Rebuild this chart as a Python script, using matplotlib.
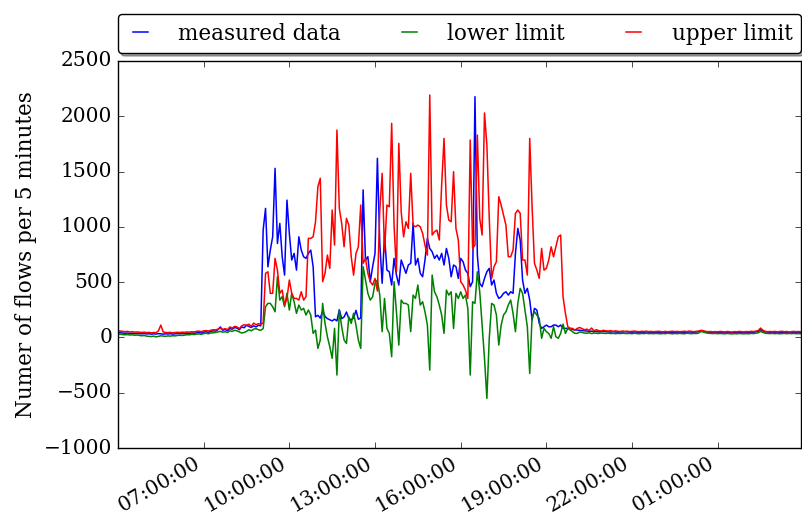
import datetime as dt
import matplotlib
matplotlib.use("Agg")
import matplotlib.pyplot as plt
import matplotlib.dates as mdates

# ---------------- data (5-minute samples starting 04:00) ----------------
start_time = dt.datetime(2015, 1, 1, 4, 0, 0)
step_minutes = 5

measured_early = [45, 42, 40, 38, 40, 36, 38, 35, 37, 34,
                  33, 35, 32, 34, 30, 33, 31, 35, 32, 30,
                  33, 31, 34, 30, 32, 35, 33, 36, 34, 38,
                  36, 40, 38, 42, 45, 40, 48, 52, 46, 55,
                  60, 58, 70, 95, 65, 72, 60, 80, 75, 90,
                  85, 70, 95, 88, 110, 100, 90, 105, 95, 110, 105]
measured_day = [971, 1167, 639, 790, 910, 1529, 850, 1031, 730, 564, 1242, 941, 700, 760, 609,
                910, 790, 730, 715, 760, 790, 640,
                187, 200, 175, 240, 190, 170, 160, 150, 165, 150, 250, 170, 185, 230, 170, 160,
                175, 245, 165, 175, 1334, 700, 730, 504, 640, 760, 1620, 850,
                490, 926, 609, 594, 474, 715, 564, 474, 700, 640, 580, 655, 670, 1031, 655,
                715, 580, 549, 700, 896, 805, 775, 715, 745, 700, 760, 655, 805, 715,
                549, 655, 640, 534, 715, 685, 609, 580, 459, 504, 2177, 745, 489, 459, 534,
                594, 625, 474, 519, 399, 353, 368, 399, 413, 383,
                413, 399, 760, 986, 881, 519, 399, 444, 338, 157, 263, 248, 127, 82, 97,
                112, 97, 97, 112, 112, 97, 112, 82, 82, 82, 82, 72, 67, 67]
measured_late = [65, 62, 60, 58, 55, 57, 52, 55, 50, 53,
                 55, 52, 50, 48, 52, 50, 47, 50, 48, 52,
                 50, 48, 46, 50, 47, 45, 48, 46, 50, 48,
                 45, 47, 44, 46, 48, 45, 43, 46, 44, 47,
                 45, 48, 46, 44, 47, 45, 50, 48, 46, 49,
                 52, 60, 55, 50, 47, 45, 48, 46, 44, 47,
                 45, 43, 46, 44, 42, 45, 43, 47, 45, 44,
                 46, 44, 48, 46, 50, 55, 70, 58, 50, 47,
                 45, 48, 46, 44, 47, 45, 43, 46, 44, 45,
                 47, 45, 46, 44]

lower_early = [30, 28, 25, 24, 26, 22, 24, 20, 22, 18,
               15, 18, 12, 10, 8, 12, 5, 10, 15, 12,
               10, 14, 12, 16, 14, 18, 20, 18, 22, 25,
               24, 28, 26, 30, 32, 28, 35, 38, 34, 40,
               42, 45, 50, 55, 48, 52, 45, 60, 55, 65,
               60, 50, 40, 45, 55, 70, 60, 75, 80, 70, 65]
lower_day = [80, 278, 308, 308, 278, 232, 549, 338, 368, 278, 399, 248, 399, 323, 218,
             293, 248, 263, 203, 248, 203, 37,
             67, -99, -23, 308, 127, 6, -84, -189, 82, -340, 248, 97, -23, -54, 187, 127,
             218, 112, -23, -99, 640, 519, 399, 338, 368, 489, 519, 383,
             52, 353, 82, 37, -174, 504, 232, -69, 338, 308, 308, 293, 52, 383, 353,
             474, 293, 323, 232, 112, -295, 564, 413, 368, 293, 203, 37, 428, 383,
             413, 82, 399, 353, 413, 353, 383, 263, -340, 323, 308, 594, 413, 112, -189,
             -551, -8, 308, 293, 203, -69, 112, 203, 232, 293,
             338, 218, 52, 308, 444, 399, 248, 97, -325, 187, 232, 203, 173, -8, 82,
             52, 37, -8, 97, 7, -8, 37, 120, 37, 82, 67, 52, 37, 37]
lower_late = [50, 45, 40, 38, 42, 35, 40, 38, 36, 40,
              38, 36, 40, 35, 38, 34, 37, 35, 38, 36,
              35, 37, 34, 38, 36, 33, 36, 35, 38, 34,
              36, 34, 37, 35, 33, 36, 34, 38, 35, 33,
              36, 34, 37, 35, 33, 38, 36, 34, 37, 35,
              40, 55, 48, 42, 38, 36, 35, 37, 34, 36,
              35, 33, 36, 34, 32, 35, 33, 36, 34, 33,
              35, 33, 37, 35, 38, 42, 55, 45, 38, 36,
              35, 37, 34, 36, 33, 35, 37, 34, 36, 35,
              36, 34, 35, 33]

upper_early = [60, 58, 55, 52, 55, 50, 52, 48, 50, 47,
               45, 48, 44, 46, 42, 45, 43, 60, 112, 50,
               45, 44, 46, 42, 44, 47, 45, 48, 46, 50,
               48, 52, 50, 55, 58, 52, 60, 62, 58, 65,
               70, 68, 75, 85, 72, 80, 70, 95, 85, 100,
               95, 80, 105, 115, 110, 120, 100, 130, 115, 125, 120]
upper_day = [130, 580, 594, 399, 399, 715, 609, 399, 428, 293, 353, 519, 399, 353, 353,
             338, 413, 338, 368, 896, 896, 910,
             1046, 1363, 1439, 504, 580, 745, 625, 1152, 835, 1875, 1167, 1031, 820, 1077,
             1016, 730, 564, 760, 820, 1197, 670, 715, 580, 504, 474, 534, 420, 1150,
             1484, 775, 1197, 1182, 1936, 1016, 594, 1755, 1137, 910, 1046, 986, 1484, 1016,
             1001, 1016, 1001, 941, 835, 745, 2192, 926, 956, 971, 881, 1378, 1800, 1197, 1061,
             1046, 1499, 986, 881, 504, 474, 428, 353, 1785, 805, 835, 1830, 1077, 926, 2030,
             1740, 1077, 534, 640, 685, 1272, 1197, 1107, 1016, 730,
             730, 790, 1122, 1152, 1122, 700, 700, 564, 1800, 1182, 670, 609, 534, 805, 609,
             625, 700, 820, 730, 820, 910, 926, 368, 218, 97, 82, 82, 67, 82]
upper_late = [90, 80, 70, 75, 65, 85, 60, 70, 62, 58,
              65, 60, 58, 62, 55, 60, 56, 54, 58, 55,
              57, 53, 55, 58, 54, 52, 56, 54, 57, 53,
              55, 52, 54, 56, 53, 51, 55, 52, 54, 56,
              53, 55, 52, 54, 56, 53, 58, 55, 52, 56,
              58, 65, 60, 55, 52, 54, 50, 53, 51, 55,
              52, 50, 54, 52, 49, 53, 51, 55, 52, 50,
              54, 52, 56, 53, 58, 62, 85, 65, 55, 52,
              54, 52, 55, 51, 53, 56, 52, 54, 50, 53,
              55, 52, 54, 51]

measured = measured_early + measured_day + measured_late
lower = lower_early + lower_day + lower_late
upper = upper_early + upper_day + upper_late

series_labels = ["measured data", "lower limit", "upper limit"]
ylabel_text = "Numer of flows per 5 minutes"
tick_hours = [7, 10, 13, 16, 19, 22, 1]


def times_for(values):
    return [start_time + dt.timedelta(minutes=step_minutes * k) for k in range(len(values))]


# ---------------- style ----------------
plt.style.use("classic")
plt.rcParams["font.family"] = ["DejaVu Serif"]
plt.rcParams["figure.facecolor"] = "white"
plt.rcParams["savefig.facecolor"] = "white"

fig = plt.figure(figsize=(8.02, 5.21), dpi=100)
ax = fig.add_axes([0.1471, 0.140, 0.8517, 0.743])

ax.plot(times_for(measured), measured, color="b", lw=1.1, label=series_labels[0])
ax.plot(times_for(lower), lower, color="g", lw=1.1, label=series_labels[1])
ax.plot(times_for(upper), upper, color="r", lw=1.1, label=series_labels[2])

t_all = times_for(measured)
ax.set_xlim(t_all[0], t_all[-1])
ax.set_ylim(-1000, 2500)
ax.set_yticks(range(-1000, 2501, 500))

ax.xaxis.set_major_locator(mdates.HourLocator(byhour=tick_hours))
ax.xaxis.set_major_formatter(mdates.DateFormatter("%H:%M:%S"))
for lbl in ax.get_xticklabels():
    lbl.set_rotation(30)
    lbl.set_ha("right")

ax.tick_params(axis="both", labelsize=14.5)
ax.set_ylabel(ylabel_text, fontsize=15.5)

ax.legend(bbox_to_anchor=(0.0, 1.02, 1.0, 0.102), loc=3, ncol=3, mode="expand",
          borderaxespad=0.0, fancybox=True, shadow=True, fontsize=15.5,
          handlelength=1.3, handletextpad=1.1)

fig.savefig("out.png", dpi=100)
